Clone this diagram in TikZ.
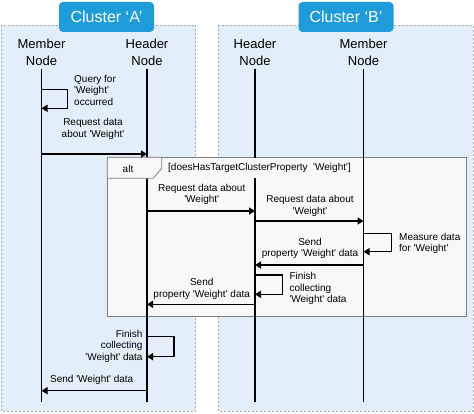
\documentclass[tikz,border=0pt]{standalone}
\usepackage{fontspec}
\setmainfont{Liberation Sans}
\usepackage{xcolor}
\definecolor{ColFill}{RGB}{226,239,250}
\definecolor{ColTag}{RGB}{30,156,218}
\definecolor{ColBorder}{RGB}{165,170,175}
\definecolor{ColFrame}{RGB}{128,128,128}
\definecolor{ColFrameFill}{RGB}{248,248,248}
\usepackage{tikz}
\usetikzlibrary{arrows.meta}
\newcommand{\Wt}{\textquotesingle Weight\textquotesingle}
\tikzstyle{Cluster}=[draw=ColBorder,fill=ColFill,dash pattern=on 2pt off 2pt]
\tikzstyle{Tag}=[rounded corners=4pt,fill=ColTag,text=white,
minimum width=95pt,minimum height=30pt,font=\fontsize{16}{18}\selectfont]
\tikzstyle{Head}=[align=center,inner sep=0pt,font=\fontsize{13}{17}\selectfont]
\tikzstyle{Life}=[draw=black,line width=1.6pt]
\tikzstyle{Msg}=[draw=black,line width=1.5pt,-{Triangle[length=6pt,width=7pt]}]
\tikzstyle{Label}=[inner sep=0pt,font=\fontsize{10}{11.5}\selectfont]
\tikzstyle{Frame}=[draw=ColFrame,fill=ColFrameFill,line width=0.8pt]

\begin{document}
\begin{tikzpicture}[x=1pt,y=-1pt]
        \useasboundingbox(0,0)rectangle(474,414);
        % clusters
        \draw[Cluster](1,25)rectangle(195.5,411);
        \draw[Cluster](217.7,25)rectangle(473,411);
        \node[Tag](CA)at(106.5,17){Cluster ‘A’};
        \node[Tag](CB)at(346,17){Cluster ‘B’};
        % lifeline heads
        \node[Head](MA)at(41.5,52.5){Member\\Node};
        \node[Head](HA)at(147,52.5){Header\\Node};
        \node[Head](HB)at(255,52.5){Header\\Node};
        \node[Head](MB)at(363.5,52.5){Member\\Node};
        % alt frame
        \draw[Frame](107.3,157.3)rectangle(466,316);
        % lifelines
        \coordinate(MAe)at(41.5,401.7);
        \coordinate(HAe)at(147,401.7);
        \coordinate(HBe)at(255,401.7);
        \coordinate(MBe)at(363.5,401.7);
        \draw[Life]([yshift=-3pt]MA.south)--(MAe);
        \draw[Life]([yshift=-3pt]HA.south)--(HAe);
        \draw[Life]([yshift=-3pt]HB.south)--(HBe);
        \draw[Life]([yshift=-3pt]MB.south)--(MBe);
        \draw[Frame](107.3,157.3)--(161.7,157.3)--(161.7,168.3)--(153.3,178.3)--(107.3,178.3)--cycle;
        \node[Label](alt)at(128,168.5){alt};
        \node[Label,fill=ColFrameFill,anchor=west,inner sep=2pt,minimum height=20pt](G)at(166,168)
            {[doesHasTargetClusterProperty~ \Wt]};
        % messages
        \coordinate(1a)at(41.5,89.3);
        \coordinate(1b)at(41.5,108.3);
        \draw[Msg](1a)--++(25.8,0)|-(1b);
        \node[Label,align=left,anchor=west](L1)at(74,90){Query for\\\Wt\\occurred};
        \coordinate(2a)at(41.5,154);
        \coordinate(2b)at(147,154);
        \draw[Msg](2a)--(2b);
        \node[Label,align=center](L2)at(93,129){Request data\\about \Wt};
        \coordinate(3a)at(147,211);
        \coordinate(3b)at(255,211);
        \draw[Msg](3a)--(3b);
        \node[Label,align=center](L3)at(201.7,194.2){Request data about\\\Wt};
        \coordinate(4a)at(255,221);
        \coordinate(4b)at(363.5,221);
        \draw[Msg](4a)--(4b);
        \node[Label,align=center](L4)at(310,205.8){Request data about\\\Wt};
        \coordinate(5a)at(363.5,233.3);
        \coordinate(5b)at(363.5,251.7);
        \draw[Msg](5a)--++(28.2,0)|-(5b);
        \node[Label,align=left,anchor=west](L5)at(399,243.2){Measure data\\for \Wt};
        \coordinate(6a)at(363.5,265);
        \coordinate(6b)at(255,265);
        \draw[Msg](6a)--(6b);
        \node[Label,align=center](L6)at(310,248.6){Send\\property \Wt{} data};
        \coordinate(7a)at(255,275);
        \coordinate(7b)at(255,294.3);
        \draw[Msg](7a)--++(27.3,0)|-(7b);
        \node[Label,align=left,anchor=west](L7)at(289.3,288.6){Finish\\collecting\\\Wt{} data};
        \coordinate(8a)at(255,304.3);
        \coordinate(8b)at(147,304.3);
        \draw[Msg](8a)--(8b);
        \node[Label,align=center](L8)at(201.7,288.8){Send\\property \Wt{} data};
        \coordinate(9a)at(147,336.7);
        \coordinate(9b)at(147,356.7);
        \draw[Msg](9a)--++(27,0)|-(9b);
        \node[Label,align=right,anchor=east](L9)at(142.7,346.2){Finish\\collecting\\\Wt{} data};
        \coordinate(10a)at(147,390.7);
        \coordinate(10b)at(41.5,390.7);
        \draw[Msg](10a)--(10b);
        \node[Label](L10)at(91.7,380){Send \Wt{} data};
    \end{tikzpicture}
\end{document}
